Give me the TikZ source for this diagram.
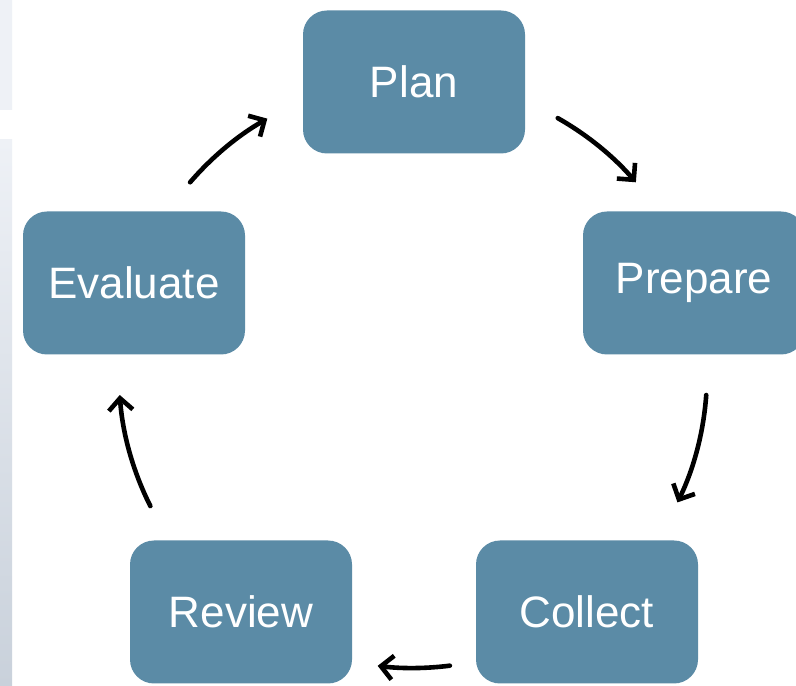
\documentclass[tikz,border=0pt]{standalone}
\usepackage{fontspec}
\setmainfont{Liberation Sans}
\usetikzlibrary{arrows.meta}
\definecolor{boxblue}{HTML}{5B8BA6}
\definecolor{stripA}{HTML}{EEF1F6}
\definecolor{stripB}{HTML}{C9D1DB}
\begin{document}
\begin{tikzpicture}[x=1pt,y=1pt,
  stage/.style={draw=none,fill=boxblue,rounded corners=24pt,minimum width=222pt,minimum height=143pt,
    text=white,font=\fontsize{44}{50}\selectfont,inner sep=0pt},
  arr/.style={line width=4.6pt,line cap=round,-{Straight Barb[length=12pt,width=24pt,line width=4.6pt]}}]
\useasboundingbox (0,0) rectangle (796,686);
\fill[white] (0,0) rectangle (796,686);
\shade[top color=stripA,bottom color=stripA] (0,576) rectangle (12,686);
\shade[top color=stripA,bottom color=stripB] (0,0) rectangle (12,546);
\node[stage] (plan) at (414,604) {Plan};
\node[stage] (prepare) at (694,403) {Prepare};
\node[stage] (collect) at (587,74) {Collect};
\node[stage] (review) at (241,74) {Review};
\node[stage] (evaluate) at (134,403) {Evaluate};
\coordinate (cyc) at (413,312);
\draw[arr] ([shift={(60.5:294)}]cyc) arc[start angle=60.5,end angle=40.7,radius=294];
\draw[arr] ([shift={(-4.1:294)}]cyc) arc[start angle=-4.1,end angle=-25.9,radius=294];
\draw[arr] ([shift={(-82.8:294)}]cyc) arc[start angle=-82.8,end angle=-96.9,radius=294];
\draw[arr] ([shift={(206.7:294)}]cyc) arc[start angle=206.7,end angle=184.1,radius=294];
\draw[arr] ([shift={(139.3:294)}]cyc) arc[start angle=139.3,end angle=119.7,radius=294];
\end{tikzpicture}
\end{document}
